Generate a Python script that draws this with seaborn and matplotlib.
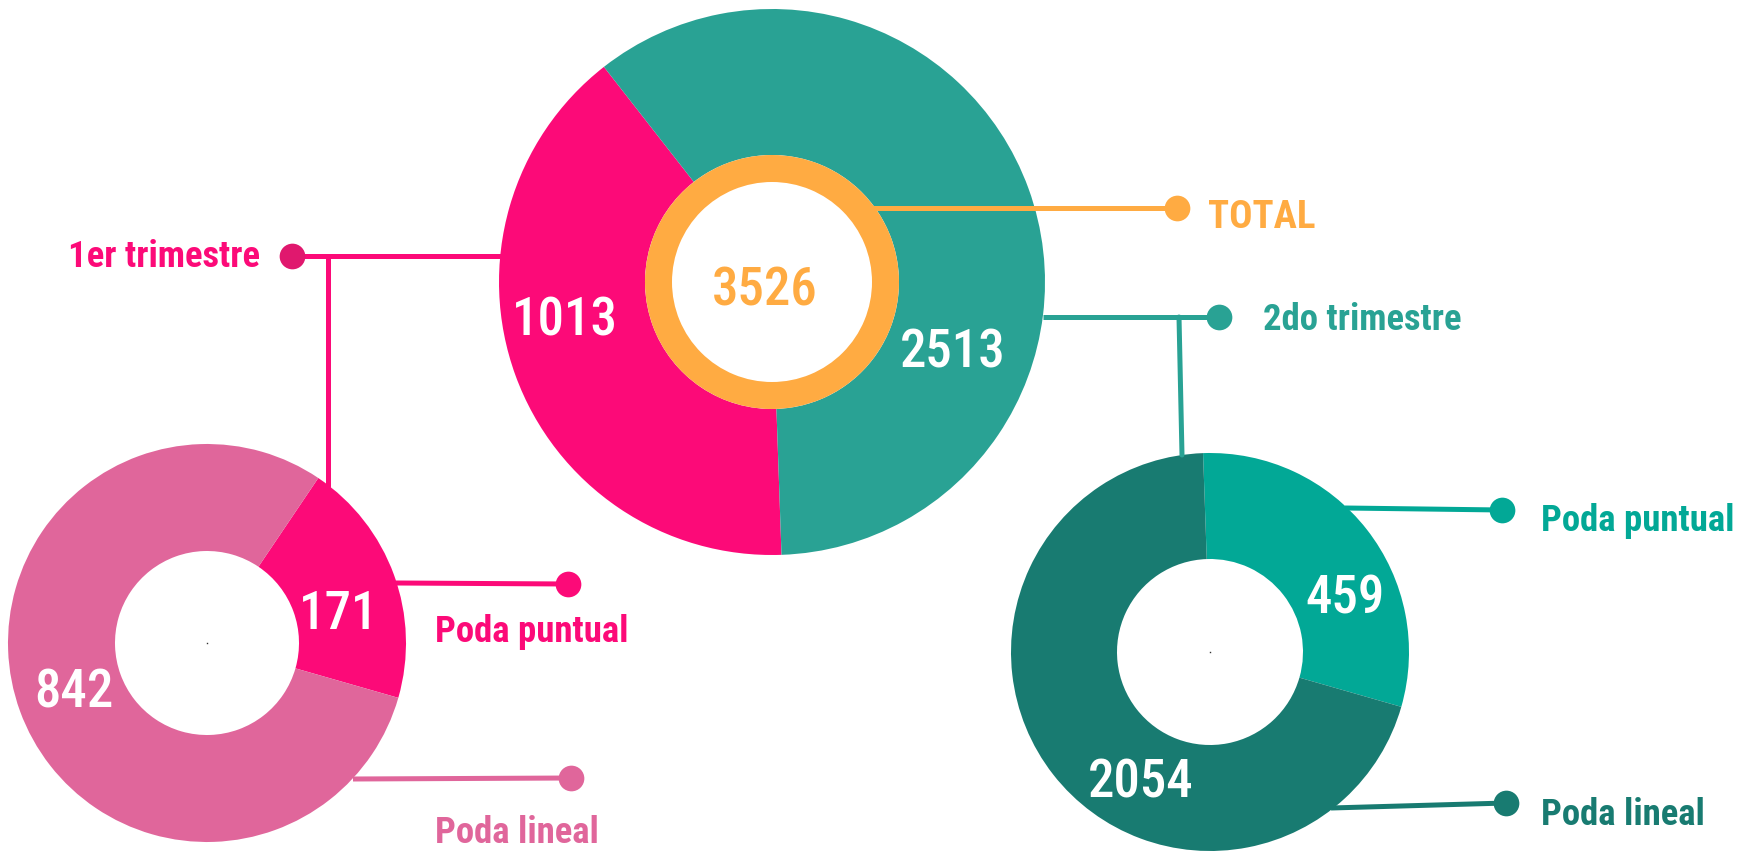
import matplotlib.pyplot as plt
import seaborn as sns

# values shown on the chart
main_labels = ['1er trimestre', '2do trimestre']
main_values = [1013, 2513]
main_shares = [40, 60]          # wedge sizes as drawn in the picture
total_label = 'TOTAL'
total_value = 3526

sub_labels = ['Poda puntual', 'Poda lineal']
q1_values = [171, 842]
q1_shares = [20, 80]
q2_values = [459, 2054]
q2_shares = [30, 70]

PINK = '#FC0A78'
PINK_LIGHT = '#E0669B'
TEAL = '#29A294'
TEAL_LIGHT = '#02A896'
TEAL_DARK = '#187B71'
ORANGE = '#FFAB42'

sns.set_theme(style='white')
plt.rcParams['font.family'] = ['Roboto Condensed', 'Liberation Sans Narrow',
                               'Open Sans Condensed', 'DejaVu Sans']
plt.rcParams['font.stretch'] = 'condensed'

W, H = 1741, 851
fig = plt.figure(figsize=(W / 100, H / 100), dpi=100)
ax = fig.add_axes([0, 0, 1, 1])
ax.set_xlim(0, W)
ax.set_ylim(0, H)
ax.set_aspect('equal')
ax.axis('off')


def fy(y):
    # picture rows are counted from the top
    return H - y


# main donut
ax.pie(main_shares, colors=[PINK, TEAL], startangle=128, counterclock=True,
       center=(772, fy(282)), radius=273,
       wedgeprops=dict(width=146, linewidth=0))
ax.pie([total_value], colors=[ORANGE], center=(772, fy(282)), radius=127,
       wedgeprops=dict(width=27, linewidth=0))

# first quarter
ax.pie(q1_shares, colors=[PINK, PINK_LIGHT], startangle=-16, counterclock=True,
       center=(207, fy(643)), radius=199,
       wedgeprops=dict(width=107, linewidth=0))
# second quarter
ax.pie(q2_shares, colors=[TEAL_LIGHT, TEAL_DARK], startangle=-16, counterclock=True,
       center=(1210, fy(652)), radius=199,
       wedgeprops=dict(width=106, linewidth=0))

ax.set_xlim(0, W)
ax.set_ylim(0, H)

lw = 3.6
ms = 18.5


def connector(xs, ys, color, dot_color=None):
    ax.plot(xs, [fy(v) for v in ys], color=color, lw=lw, solid_capstyle='butt', zorder=5)
    ax.plot(xs[-1], fy(ys[-1]), 'o', color=dot_color or color, ms=ms, mew=0, zorder=6)


# 1er trimestre
ax.plot([328, 328], [fy(256), fy(487)], color=PINK, lw=lw, zorder=5)
connector([515, 292], [256, 256], PINK, '#E0186E')
# total
connector([868, 1177], [208, 208], ORANGE)
# 2do trimestre
ax.plot([1179, 1182], [fy(317), fy(455)], color=TEAL, lw=lw, zorder=5)
connector([1043, 1219], [317, 317], TEAL)
# sub donut connectors
connector([396, 568], [583, 584], PINK)
connector([353, 571], [779, 778], PINK_LIGHT)
connector([1345, 1502], [508, 510], TEAL_LIGHT)
connector([1331, 1506], [808, 803], TEAL_DARK)

# centre specks
ax.plot([207, 1210], [fy(643), fy(652)], 's', color='#333333', ms=1, mew=0)

lab = dict(fontsize=26.5, fontweight='bold', ha='left', va='baseline')
ax.text(68, fy(267), main_labels[0], color=PINK, **lab)
ax.text(1263, fy(330), main_labels[1], color=TEAL, **lab)
ax.text(1208, fy(228), total_label, color=ORANGE, fontsize=28, fontweight='bold',
        ha='left', va='baseline')
ax.text(435, fy(642), sub_labels[0], color=PINK, **lab)
ax.text(435, fy(843), sub_labels[1], color=PINK_LIGHT, **lab)
ax.text(1541, fy(531), sub_labels[0], color=TEAL_LIGHT, **lab)
ax.text(1541, fy(825), sub_labels[1], color=TEAL_DARK, **lab)

num = dict(fontsize=38, fontweight='medium', ha='center', va='baseline', color='white')
ax.text(565, fy(335), str(main_values[0]), **num)
ax.text(953, fy(368), str(main_values[1]), **num)
ax.text(765, fy(305), str(total_value), **dict(num, color=ORANGE))
ax.text(339, fy(629), str(q1_values[0]), **num)
ax.text(74, fy(707), str(q1_values[1]), **num)
ax.text(1345, fy(613), str(q2_values[0]), **num)
ax.text(1141, fy(797), str(q2_values[1]), **num)

fig.savefig('out.png', dpi=100, facecolor='white')
